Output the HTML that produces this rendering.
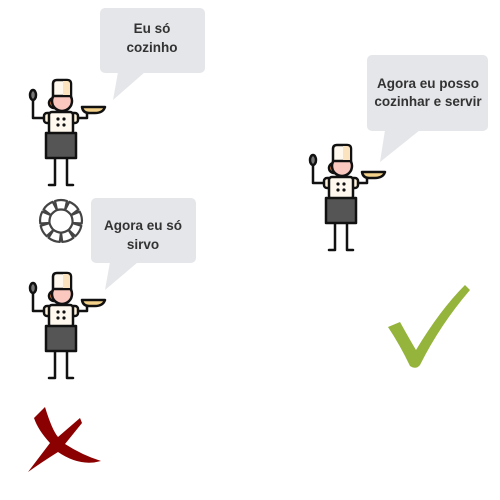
<!DOCTYPE html>
<html><head><meta charset="utf-8"><style>
html,body{margin:0;padding:0;background:#fff;width:500px;height:500px;overflow:hidden}
</style></head><body>
<svg width="500" height="500" viewBox="0 0 500 500" xmlns="http://www.w3.org/2000/svg" font-family="'Liberation Sans', sans-serif">
<defs>
<g id="chef" stroke="#111" stroke-width="2.5" stroke-linecap="round" stroke-linejoin="round">
  <path d="M30 78 V105 H24 M42 78 V105 H48" fill="none"/>
  <path d="M8 20 V38 H22" fill="none"/>
  <ellipse cx="8" cy="15" rx="3" ry="5" fill="#777"/>
  <path d="M50 38 H62 V32" fill="none"/>
  <path d="M57 27 H80 Q78 33 70 33 H64 Q58 33 57 27Z" fill="#f5d28a"/>
  <circle cx="29" cy="23" r="5" fill="#f08a4b"/>
  <circle cx="37" cy="21" r="10" fill="#fbc8c0"/>
  <path d="M28 16 V4 Q28 0 32 0 H42 Q46 0 46 4 V16 Z" fill="#fff8ee"/>
  <path d="M38 1 H42 Q45 1 45 4 V15 H38 Z" fill="#fbe3c0" stroke="none"/>
  <rect x="19" y="33" width="8" height="10" rx="3" fill="#fff3dc"/>
  <rect x="45" y="33" width="8" height="10" rx="3" fill="#fff3dc"/>
  <rect x="24" y="32" width="24" height="22" rx="3" fill="#fff8ee"/>
  <path d="M21 53 H51 V78 H21 Z" fill="#555"/>
  <g fill="#111" stroke="none">
    <circle cx="33" cy="39" r="1.6"/><circle cx="39" cy="39" r="1.6"/>
    <circle cx="33" cy="45" r="1.6"/><circle cx="39" cy="45" r="1.6"/>
  </g>
</g>
</defs>

<g fill="#e5e6e9">
  <rect x="100" y="8" width="105" height="65" rx="5"/>
  <path d="M118 72 L113 100 L145 72Z"/>
  <rect x="91" y="198" width="105" height="65" rx="5"/>
  <path d="M110 262 L105 290 L138 262Z"/>
  <rect x="367" y="55" width="121" height="76" rx="5"/>
  <path d="M385 130 L380 162 L420 130Z"/>
</g>
<g font-weight="bold" font-size="13.5" fill="#333" text-anchor="middle">
  <text x="152" y="33">Eu só</text>
  <text x="152" y="52">cozinho</text>
  <text x="143" y="230">Agora eu só</text>
  <text x="143" y="249">sirvo</text>
  <text x="428" y="88">Agora eu posso</text>
  <text x="428" y="106">cozinhar e servir</text>
</g>

<use href="#chef" x="25" y="80"/>
<use href="#chef" x="25" y="273"/>
<use href="#chef" x="305" y="145"/>

<g fill="#fff" stroke="#444" stroke-width="2.2" stroke-linejoin="round" transform="translate(61,221)">
  <g id="seg"><path d="M-6 -20 Q0 -22 6 -20 L4 -11 Q0 -12 -4 -11 Z"/></g>
  <use href="#seg" transform="rotate(40)"/><use href="#seg" transform="rotate(80)"/>
  <use href="#seg" transform="rotate(120)"/><use href="#seg" transform="rotate(160)"/>
  <use href="#seg" transform="rotate(200)"/><use href="#seg" transform="rotate(240)"/>
  <use href="#seg" transform="rotate(280)"/><use href="#seg" transform="rotate(320)"/>
</g>

<path d="M34 418 L45 407 Q52 430 58 437 L80 418 L82 423 L65 444 Q82 455 101 461 Q80 467 58 452 Q42 462 28 472 L50 443 Q38 430 34 418Z" fill="#8b0000"/>

<path d="M388 327 L400 322 Q410 340 416 350 Q440 310 465 285 L470 290 Q440 325 420 365 Q416 370 410 366 Q400 345 388 327Z" fill="#94b43b"/>
</svg>
</body></html>
